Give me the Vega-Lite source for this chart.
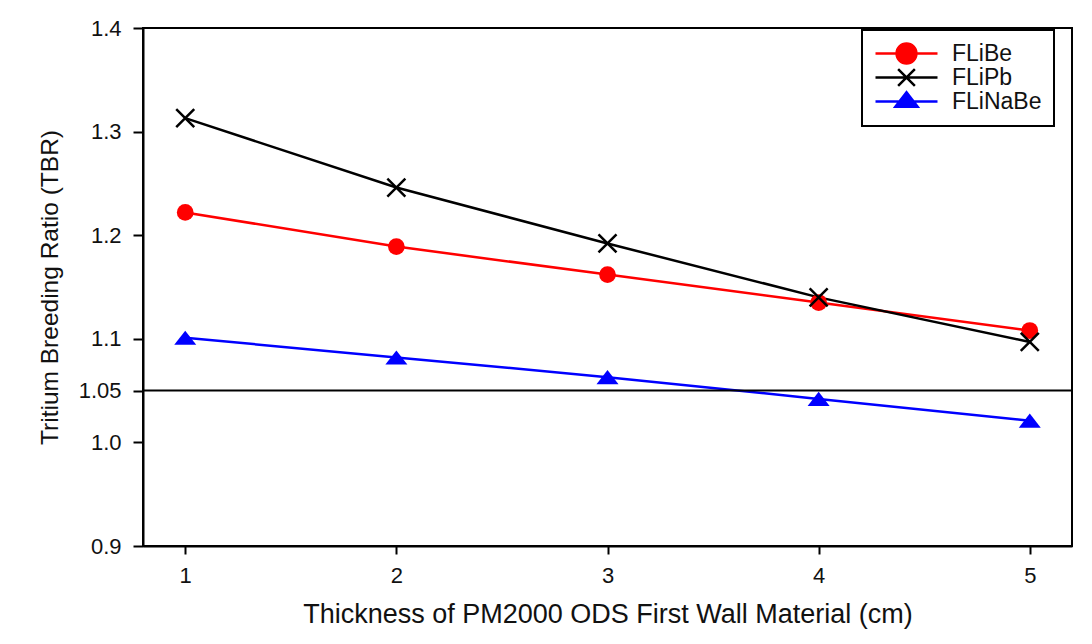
{
  "$schema": "https://vega.github.io/schema/vega-lite/v6.json",
  "width": 929,
  "height": 518,
  "autosize": {"type": "none"},
  "padding": {"left": 143, "top": 28, "right": 20, "bottom": 98},
  "background": "white",
  "data": {
    "values": [
      {"series": "FLiBe", "thickness": 1, "tbr": 1.222},
      {"series": "FLiBe", "thickness": 2, "tbr": 1.189},
      {"series": "FLiBe", "thickness": 3, "tbr": 1.162},
      {"series": "FLiBe", "thickness": 4, "tbr": 1.135},
      {"series": "FLiBe", "thickness": 5, "tbr": 1.108},
      {"series": "FLiPb", "thickness": 1, "tbr": 1.313},
      {"series": "FLiPb", "thickness": 2, "tbr": 1.246},
      {"series": "FLiPb", "thickness": 3, "tbr": 1.192},
      {"series": "FLiPb", "thickness": 4, "tbr": 1.140},
      {"series": "FLiPb", "thickness": 5, "tbr": 1.097},
      {"series": "FLiNaBe", "thickness": 1, "tbr": 1.101},
      {"series": "FLiNaBe", "thickness": 2, "tbr": 1.082},
      {"series": "FLiNaBe", "thickness": 3, "tbr": 1.063},
      {"series": "FLiNaBe", "thickness": 4, "tbr": 1.042},
      {"series": "FLiNaBe", "thickness": 5, "tbr": 1.021}
    ]
  },
  "layer": [
    {
      "mark": {"type": "line", "strokeWidth": 2.5},
      "encoding": {
        "x": {
          "field": "thickness",
          "type": "quantitative",
          "scale": {"domain": [0.8, 5.2], "nice": false, "zero": false},
          "axis": {
            "title": "Thickness of PM2000 ODS First Wall Material (cm)",
            "values": [1, 2, 3, 4, 5],
            "format": "d",
            "grid": false,
            "tickSize": 8,
            "tickWidth": 2,
            "tickColor": "black",
            "domainColor": "black",
            "domainWidth": 2,
            "labelPadding": 11,
            "labelFont": "Liberation Sans",
            "labelFontSize": 22,
            "labelColor": "#111111",
            "titleFont": "Liberation Sans",
            "titleFontSize": 27,
            "titleFontWeight": "normal",
            "titleColor": "#111111",
            "titlePadding": 15
          }
        },
        "y": {
          "field": "tbr",
          "type": "quantitative",
          "scale": {"domain": [0.9, 1.4], "nice": false, "zero": false},
          "axis": {
            "title": "Tritium Breeding Ratio (TBR)",
            "values": [0.9, 1.0, 1.05, 1.1, 1.2, 1.3, 1.4],
            "labelExpr": "datum.value === 1.05 ? '1.05' : format(datum.value, '.1f')",
            "grid": false,
            "tickSize": 10,
            "tickWidth": 2,
            "tickColor": "black",
            "domainColor": "black",
            "domainWidth": 2,
            "labelPadding": 12,
            "labelFont": "Liberation Sans",
            "labelFontSize": 22,
            "labelColor": "#111111",
            "titleFont": "Liberation Sans",
            "titleFontSize": 24.5,
            "titleFontWeight": "normal",
            "titleColor": "#111111",
            "titlePadding": 16
          }
        },
        "color": {
          "field": "series",
          "type": "nominal",
          "scale": {"domain": ["FLiBe", "FLiPb", "FLiNaBe"], "range": ["#ff0000", "#000000", "#0000ff"]},
          "legend": {
            "title": null,
            "orient": "none",
            "legendX": 719,
            "legendY": 2,
            "padding": 12,
            "strokeColor": "black",
            "fillColor": "white",
            "cornerRadius": 0,
            "symbolSize": 3844,
            "clipHeight": 23,
            "rowPadding": 0,
            "labelOffset": 13,
            "labelFont": "Liberation Sans",
            "labelFontSize": 23,
            "labelColor": "#111111",
            "symbolStrokeWidth": 2.5,
            "encode": {
              "legend": {
                "update": {"strokeWidth": {"value": 2}}
              },
              "symbols": {
                "update": {
                  "shape": {"signal": "datum.value === 'FLiBe' ? 'M-1,0L1,0M0.32,0A0.32,0.32,0,1,1,-0.32,0A0.32,0.32,0,1,1,0.32,0Z' : datum.value === 'FLiPb' ? 'M-1,0L1,0M-0.27,-0.27L0.27,0.27M-0.27,0.27L0.27,-0.27' : 'M-1,0L1,0M0,-0.3L0.36,0.17L-0.36,0.17Z'"},
                  "fill": {"signal": "datum.value === 'FLiBe' ? '#ff0000' : datum.value === 'FLiPb' ? 'transparent' : '#0000ff'"},
                  "stroke": {"signal": "datum.value === 'FLiBe' ? '#ff0000' : datum.value === 'FLiPb' ? '#000000' : '#0000ff'"}
                }
              }
            }
          }
        }
      }
    },
    {
      "data": {"values": [{"threshold": 1.05}]},
      "mark": {"type": "rule", "color": "black", "strokeWidth": 2},
      "encoding": {
        "y": {"field": "threshold", "type": "quantitative"}
      }
    },
    {
      "transform": [{"filter": "datum.series === 'FLiBe'"}],
      "mark": {"type": "point", "shape": "circle", "filled": true, "opacity": 1, "size": 280, "color": "#ff0000"},
      "encoding": {
        "x": {"field": "thickness", "type": "quantitative"},
        "y": {"field": "tbr", "type": "quantitative"}
      }
    },
    {
      "transform": [{"filter": "datum.series === 'FLiPb'"}],
      "mark": {"type": "point", "shape": "M-1,-1L1,1M-1,1L1,-1", "filled": false, "opacity": 1, "size": 324, "color": "#000000", "strokeWidth": 2.5},
      "encoding": {
        "x": {"field": "thickness", "type": "quantitative"},
        "y": {"field": "tbr", "type": "quantitative"}
      }
    },
    {
      "transform": [{"filter": "datum.series === 'FLiNaBe'"}],
      "mark": {"type": "point", "shape": "M0,-0.64L1,0.64L-1,0.64Z", "filled": true, "opacity": 1, "size": 484, "color": "#0000ff"},
      "encoding": {
        "x": {"field": "thickness", "type": "quantitative"},
        "y": {"field": "tbr", "type": "quantitative"}
      }
    }
  ],
  "config": {
    "view": {"stroke": "black", "strokeWidth": 2}
  }
}
